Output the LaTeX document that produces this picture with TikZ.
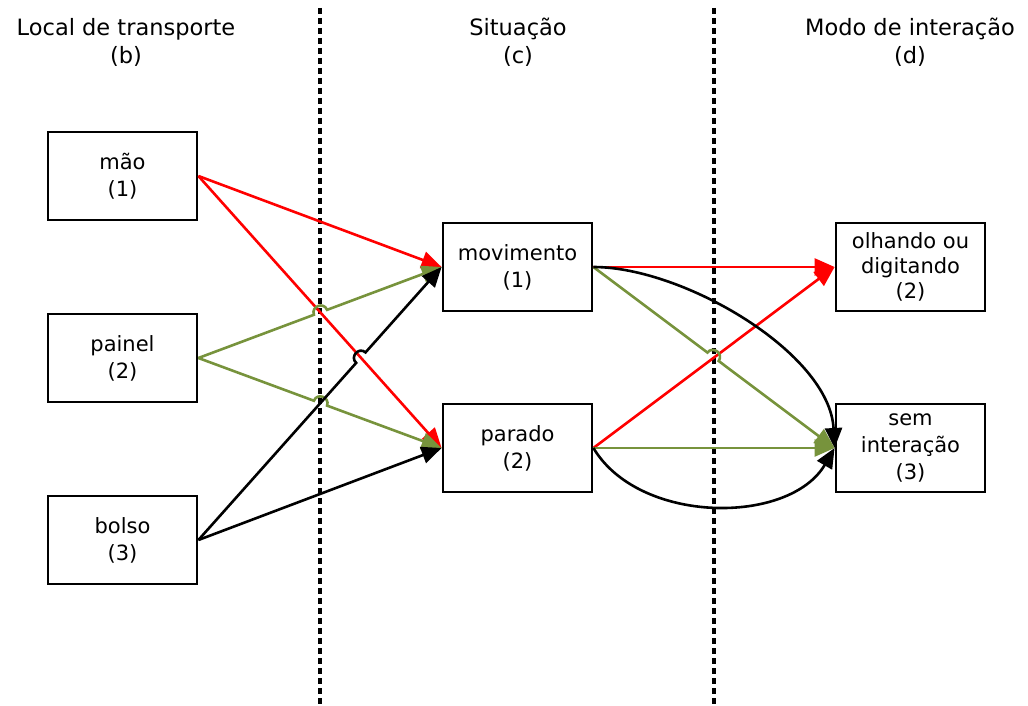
\documentclass[tikz,border=0pt]{standalone}
\usepackage{fontspec}
\setmainfont{DejaVu Sans}
\usetikzlibrary{arrows.meta,calc}
\definecolor{vred}{RGB}{255,0,0}
\definecolor{vgreen}{RGB}{119,147,60}
\newcommand\hopto[4]{%
  \path (#2) -- (#3) coordinate[pos=#4] (hc);
  \coordinate (ha) at ($(hc)!7pt!(#2)$);
  \coordinate (hb) at ($(hc)!7pt!(#3)$);
  \draw[#1] (#2) -- (ha) .. controls ($(ha)!9pt!90:(hc)$) and ($(hb)!9pt!-90:(hc)$) .. (hb) -- (#3);
}
\begin{document}
\begin{tikzpicture}[x=1pt,y=-1pt,
  box/.style={draw,line width=2.8pt,minimum width=149pt,minimum height=88pt,inner sep=0pt,align=center,font=\fontsize{21}{27}\selectfont},
  hdr/.style={align=center,font=\fontsize{22.5}{28}\selectfont},
  sep/.style={line width=3.4pt,dash pattern=on 6pt off 4pt},
  con/.style={line width=2.6pt,-{Triangle[length=20pt,width=17pt]}},
]
\useasboundingbox (0,0) rectangle (1028,706);
% headers
\node[hdr] (h1) at (126,42) {Local de transporte\\(b)};
\node[hdr] (h2) at (518,42) {Situação\\(c)};
\node[hdr] (h3) at (910,42) {Modo de interação\\(d)};
% separators
\coordinate (s1a) at (320,8); \coordinate (s1b) at (320,706);
\coordinate (s2a) at (714,8); \coordinate (s2b) at (714,706);
\draw[sep] (s1a) -- (s1b);
\draw[sep] (s2a) -- (s2b);
% boxes
\node[box] (mao) at (122.5,176) {mão\\(1)};
\node[box] (painel) at (122.5,358) {painel\\(2)};
\node[box] (bolso) at (122.5,540) {bolso\\(3)};
\node[box] (mov) at (517.5,267) {movimento\\(1)};
\node[box] (parado) at (517.5,448) {parado\\(2)};
\node[box,font=\fontsize{21}{25}\selectfont] (olh) at (910.5,267) {olhando ou\\digitando\\(2)};
\node[box] (sem) at (910.5,448) {sem\\interação\\(3)};
% left connectors
\draw[con,vred] (mao.east) -- (mov.west);
\draw[con,vred] (mao.east) -- (parado.west);
\hopto{con,vgreen}{painel.east}{mov.west}{0.502}
\hopto{con,vgreen}{painel.east}{parado.west}{0.502}
\hopto{con,black}{bolso.east}{mov.west}{0.668}
\draw[con,black] (bolso.east) -- (parado.west);
% right connectors
\draw[con,vred] (mov.east) -- (olh.west);
\draw[con,vred] (parado.east) -- (olh.west);
\hopto{con,vgreen}{mov.east}{sem.west}{0.496}
\draw[con,vgreen] (parado.east) -- (sem.west);
\draw[con,black] (mov.east) .. controls +(90,0) and +(-5,-95) .. (sem.west);
\draw[con,black] (parado.east) .. controls +(46,77) and +(-45,77) .. (sem.west);
\end{tikzpicture}
\end{document}
